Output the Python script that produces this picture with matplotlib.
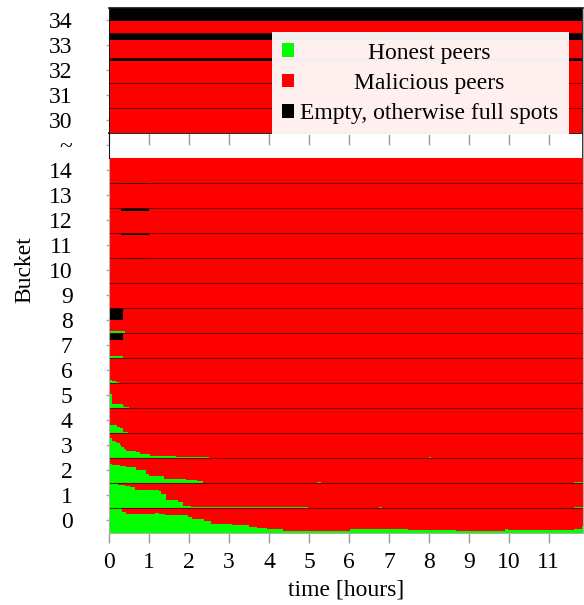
import numpy as np
import matplotlib
matplotlib.use("Agg")
import matplotlib.pyplot as plt
from matplotlib.patches import Patch

plt.rcParams['font.family'] = ['Liberation Serif', 'DejaVu Serif']

# ---------------- data ----------------
T_END = 11.85
xticks = [0, 1, 2, 3, 4, 5, 6, 7, 8, 9, 10, 11]
bucket_ids = [0, 1, 2, 3, 4, 5, 6, 7, 8, 9, 10, 11, 12, 13, 14, None, 30, 31, 32, 33, 34]
bucket_labels = ['0', '1', '2', '3', '4', '5', '6', '7', '8', '9', '10', '11', '12',
                 '13', '14', '~', '30', '31', '32', '33', '34']
legend_labels = ['Honest peers', 'Malicious peers', 'Empty, otherwise full spots']

# honest (green) fraction of each bucket, step function over time [hours]
honest_t_b0 = [0, 0.317, 0.425, 1.15, 1.233, 1.4, 1.958, 2.067, 2.358, 2.55, 3.067, 3.508,
               3.692, 3.942, 4.342, 4.758, 6.03, 7.48, 8.69, 9.9, 9.97, 11.63, 11.82]
honest_b0 = [0.97, 0.81, 0.76, 0.80, 0.75, 0.69, 0.63, 0.55, 0.45, 0.36, 0.32, 0.23,
             0.17, 0.13, 0.08, 0.06, 0.15, 0.11, 0.07, 0.15, 0.11, 0.15, 0.27]
honest_t_b1 = [0, 0.217, 0.4, 0.525, 0.633, 1.233, 1.3, 1.425, 1.708, 1.842, 2.042, 4.983,
               6.75, 6.82, 11.63]
honest_b1 = [0.97, 0.89, 0.85, 0.81, 0.69, 0.65, 0.54, 0.30, 0.22, 0.05, 0.03, 0.0,
             0.04, 0.0, 0.04]
honest_t_b2 = [0, 0.025, 0.075, 0.275, 0.425, 0.675, 0.925, 0.983, 1.375, 1.925, 2.192,
               2.342, 5.2, 5.3, 11.63]
honest_b2 = [0.83, 0.76, 0.69, 0.65, 0.61, 0.49, 0.35, 0.25, 0.16, 0.11, 0.05, 0.0,
             0.03, 0.0, 0.04]
honest_t_b3 = [0, 0.008, 0.075, 0.133, 0.192, 0.258, 0.3, 0.358, 0.425, 0.667, 0.758,
               1.008, 1.675, 2.483, 8.0, 8.06]
honest_b3 = [0.85, 0.79, 0.68, 0.63, 0.59, 0.52, 0.41, 0.35, 0.28, 0.21, 0.15, 0.07,
             0.03, 0.0, 0.03, 0.0]
honest_t_b4 = [0, 0.025, 0.192, 0.275, 0.33, 0.467]
honest_b4 = [0.36, 0.32, 0.23, 0.17, 0.03, 0.0]
honest_t_b5 = [0, 0.025, 0.075, 0.33, 0.375, 0.48]
honest_b5 = [0.67, 0.53, 0.16, 0.08, 0.04, 0.0]
honest_t_b6 = [0, 0.025, 0.075, 0.175, 0.25]
honest_b6 = [0.2, 0.12, 0.08, 0.04, 0.0]
honest_t_b7 = [0, 0.35]
honest_b7 = [0.08, 0.0]
honest_t_b8 = [0, 0.4]
honest_b8 = [0.08, 0.0]

# empty (black) fraction at the top of each bucket
empty_t_b7 = [0, 0.35]
empty_b7 = [0.30, 0.0]
empty_t_b8 = [0, 0.35]
empty_b8 = [0.50, 0.0]
empty_t_b10 = [0, 0.3, 1.0]
empty_b10 = [0.0, 0.06, 0.0]
empty_t_b11 = [0, 0.3, 1.0]
empty_b11 = [0.0, 0.08, 0.0]
empty_t_b12 = [0, 0.3, 1.0]
empty_b12 = [0.0, 0.13, 0.0]
empty_t_b13 = [0, 0.3, 1.0]
empty_b13 = [0.0, 0.04, 0.0]
empty_t_b32 = [0]
empty_b32 = [0.13]
empty_t_b33 = [0]
empty_b33 = [0.31]
empty_t_b34 = [0]
empty_b34 = [0.52]

honest_data = {0: (honest_t_b0, honest_b0), 1: (honest_t_b1, honest_b1),
               2: (honest_t_b2, honest_b2), 3: (honest_t_b3, honest_b3),
               4: (honest_t_b4, honest_b4), 5: (honest_t_b5, honest_b5),
               6: (honest_t_b6, honest_b6), 7: (honest_t_b7, honest_b7),
               8: (honest_t_b8, honest_b8)}
empty_data = {7: (empty_t_b7, empty_b7), 8: (empty_t_b8, empty_b8),
              10: (empty_t_b10, empty_b10), 11: (empty_t_b11, empty_b11),
              12: (empty_t_b12, empty_b12), 13: (empty_t_b13, empty_b13),
              32: (empty_t_b32, empty_b32), 33: (empty_t_b33, empty_b33),
              34: (empty_t_b34, empty_b34)}

GREEN = '#00ff00'
RED = '#ff0000'
BLACK = '#000000'
FS = 17

# ---------------- figure ----------------
fig = plt.figure(figsize=(5.84, 6.05), dpi=100)
ax = fig.add_axes([0.1872, 0.1195, 0.8106, 0.8681])
positions = list(range(len(bucket_ids)))
gap_pos = bucket_ids.index(None)
ylim = (-0.5, len(bucket_ids) - 0.5)

for p, b in zip(positions, bucket_ids):
    if b is None:
        continue
    ax.barh(p, T_END, height=1.0, left=0, color=RED, linewidth=0, zorder=1)
    if b in honest_data:
        t, v = honest_data[b]
        edges = list(t) + [T_END]
        v = np.asarray(v, dtype=float)
        ax.stairs(p - 0.5 + v, edges, baseline=np.full(len(v), p - 0.5), fill=True,
                  color=GREEN, linewidth=0, zorder=2)
    if b in empty_data:
        t, v = empty_data[b]
        edges = list(t) + [T_END]
        v = np.asarray(v, dtype=float)
        ax.stairs(np.full(len(v), p + 0.5), edges, baseline=p + 0.5 - v, fill=True,
                  color=BLACK, linewidth=0, zorder=2)

# separators between neighbouring buckets
for p in positions[:-1]:
    if bucket_ids[p] is not None and bucket_ids[p + 1] is not None:
        ax.axhline(p + 0.5, color='#5a0000', linewidth=0.8, alpha=0.85, zorder=2.5)

ax.set_xlim(0, T_END)
ax.set_ylim(*ylim)
ax.set_yticks(positions)
ax.set_yticklabels(bucket_labels)
ax.set_xticks(xticks)
ax.set_xticklabels([str(x) for x in xticks])
ax.tick_params(axis='x', direction='out', length=7.2, width=1, color='#9a9a9a',
               pad=6.5, labelsize=FS)
ax.tick_params(axis='y', direction='out', length=2, width=1, color='#aaaaaa',
               pad=24.5, labelsize=FS)
for s in ['left', 'right', 'bottom']:
    ax.spines[s].set_color('#b0b0b0')
ax.spines['top'].set_color('#111111')
ax.spines['top'].set_linewidth(1.2)

# dark frame around the upper (broken) part
frac_low = (gap_pos - 0.5 - ylim[0]) / (ylim[1] - ylim[0])
ax.axvline(0, ymin=frac_low, ymax=1, color='#111111', linewidth=1.4, zorder=4)
ax.axvline(T_END, ymin=frac_low, ymax=1, color='#333333', linewidth=1.4, zorder=4)

# tick marks on the top edge of the break band
loc = (gap_pos + 0.5 - ylim[0]) / (ylim[1] - ylim[0])
sec = ax.secondary_xaxis(loc)
sec.set_xticks(xticks)
sec.tick_params(direction='in', length=8.5, width=1, color='#9a9a9a',
                labeltop=False, labelbottom=False)
for s in sec.spines.values():
    s.set_color('#222222')
    s.set_linewidth(1.4)

ax.set_xlabel('time [hours]', fontsize=FS, labelpad=5)
ax.set_ylabel('Bucket', fontsize=FS, labelpad=10)

handles = [Patch(facecolor=GREEN, edgecolor='none'),
           Patch(facecolor=RED, edgecolor='none'),
           Patch(facecolor=BLACK, edgecolor='none')]
leg = ax.legend(handles, legend_labels, loc='upper right', bbox_to_anchor=(0.971, 0.9534),
                borderaxespad=0, frameon=True, fancybox=False, framealpha=0.94,
                facecolor='white', edgecolor='none', handlelength=0.51, handleheight=0.51,
                handletextpad=0.25, labelspacing=0.4, borderpad=0.45, fontsize=FS)
leg.set_zorder(6)

# centre the legend labels within their column (layout only uses text size,
# so shifting each text inside its own box keeps the legend box unchanged)
fig.canvas.draw()
renderer = fig.canvas.get_renderer()
widths = [t.get_window_extent(renderer).width for t in leg.get_texts()]
wmax = max(widths)
for t, w in zip(leg.get_texts(), widths):
    t.set_x((wmax - w) / 2.0)

fig.savefig('out.png', dpi=100)
